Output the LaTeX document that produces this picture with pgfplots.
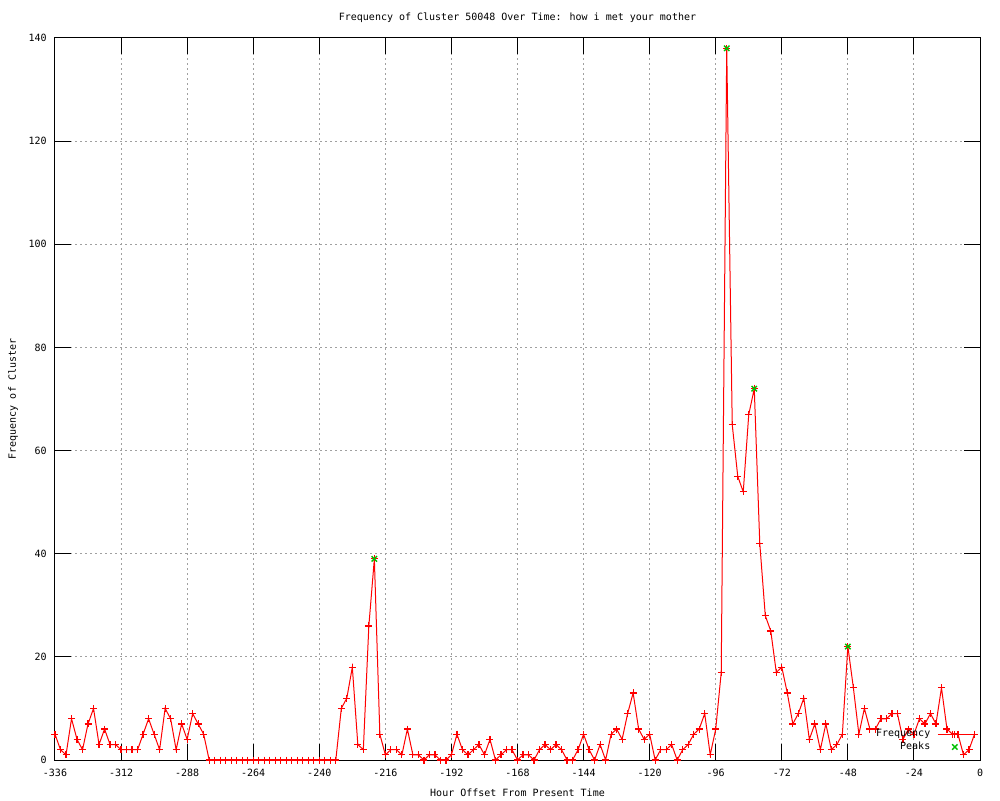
\documentclass[border=0pt]{standalone}
\usepackage{fontspec}
\setmainfont{DejaVu Sans Mono}
\setmonofont{DejaVu Sans Mono}
\usepackage{pgfplots}
\usepackage{pgfplotstable}
\pgfplotsset{compat=1.18}
\definecolor{gpred}{RGB}{255,0,0}
\definecolor{gpgreen}{RGB}{0,192,0}
\definecolor{gpgrid}{RGB}{160,160,160}

\pgfplotstableread{
x y
-336 5
-334 2
-332 1
-330 8
-328 4
-326 2
-324 7
-322 10
-320 3
-318 6
-316 3
-314 3
-312 2
-310 2
-308 2
-306 2
-304 5
-302 8
-300 5
-298 2
-296 10
-294 8
-292 2
-290 7
-288 4
-286 9
-284 7
-282 5
-280 0
-278 0
-276 0
-274 0
-272 0
-270 0
-268 0
-266 0
-264 0
-262 0
-260 0
-258 0
-256 0
-254 0
-252 0
-250 0
-248 0
-246 0
-244 0
-242 0
-240 0
-238 0
-236 0
-234 0
-232 10
-230 12
-228 18
-226 3
-224 2
-222 26
-220 39
-218 5
-216 1
-214 2
-212 2
-210 1
-208 6
-206 1
-204 1
-202 0
-200 1
-198 1
-196 0
-194 0
-192 1
-190 5
-188 2
-186 1
-184 2
-182 3
-180 1
-178 4
-176 0
-174 1
-172 2
-170 2
-168 0
-166 1
-164 1
-162 0
-160 2
-158 3
-156 2
-154 3
-152 2
-150 0
-148 0
-146 2
-144 5
-142 2
-140 0
-138 3
-136 0
-134 5
-132 6
-130 4
-128 9
-126 13
-124 6
-122 4
-120 5
-118 0
-116 2
-114 2
-112 3
-110 0
-108 2
-106 3
-104 5
-102 6
-100 9
-98 1
-96 6
-94 17
-92 138
-90 65
-88 55
-86 52
-84 67
-82 72
-80 42
-78 28
-76 25
-74 17
-72 18
-70 13
-68 7
-66 9
-64 12
-62 4
-60 7
-58 2
-56 7
-54 2
-52 3
-50 5
-48 22
-46 14
-44 5
-42 10
-40 6
-38 6
-36 8
-34 8
-32 9
-30 9
-28 4
-26 6
-24 5
-22 8
-20 7
-18 9
-16 7
-14 14
-12 6
-10 5
-8 5
-6 1
-4 2
-2 5
}\freqdata

\pgfplotstableread{
x y
-220 39
-92 138
-82 72
-48 22
}\peakdata

\begin{document}
\begin{tikzpicture}
\useasboundingbox (-27.5pt,-20pt) rectangle (472.5pt,380pt);
\begin{axis}[
  at={(0,0)}, anchor=south west,
  scale only axis, width=462.5pt, height=361pt,
  xmin=-336, xmax=0, ymin=0, ymax=140,
  xtick={-336,-312,...,0}, ytick={0,20,...,140},
  grid=major,
  major grid style={gpgrid, line width=0.5pt, dash pattern=on 1pt off 1.5pt},
  tick pos=both, tick align=inside, major tick length=8pt,
  tick style={black, line width=0.5pt},
  axis line style={black, line width=0.5pt},
  font=\fontsize{5}{6}\selectfont,
  /pgf/number format/assume math mode=true,
  /pgf/number format/1000 sep={},
  every axis title shift=0pt,
  xticklabel style={inner sep=0pt, anchor=north, yshift=-4.5pt, font=\fontsize{5}{6}\selectfont},
  yticklabel style={inner sep=0pt, anchor=east, xshift=-4pt, font=\fontsize{5}{6}\selectfont},
  title={Frequency of Cluster 50048 Over Time: how i met your mother},
  title style={at={([yshift=10pt]axis description cs:0.5,1)}, anchor=center, inner sep=0pt, font=\fontsize{5}{6}\selectfont},
  xlabel={Hour Offset From Present Time},
  xlabel style={at={([yshift=-16.5pt]axis description cs:0.5,0)}, anchor=center, inner sep=0pt, font=\fontsize{5}{6}\selectfont},
  ylabel={Frequency of Cluster},
  ylabel style={at={([xshift=-21pt]axis description cs:0,0.5)}, anchor=center, inner sep=0pt, font=\fontsize{5}{6}\selectfont},
  legend plot pos=right,
  legend cell align=right,
  legend style={draw=none, fill=none, at={(axis description cs:0.9987,0.0270)}, anchor=east,
    font=\fontsize{5}{6}\selectfont,
    nodes={inner sep=0pt, text height=3.7pt, text depth=1.3pt},
    row sep=1.5pt, column sep=3.5pt},
]
\addplot[gpred, line width=0.5pt, mark=+, mark size=1.75pt, mark options={solid, draw=gpred, line width=0.6pt}] table[x=x,y=y] {\freqdata};
\addlegendentry{Frequency}
\addplot[only marks, gpgreen, mark=x, mark size=1.9pt, mark options={draw=gpgreen, line width=0.7pt}] table[x=x,y=y] {\peakdata};
\addlegendentry{Peaks}
\end{axis}
\end{tikzpicture}
\end{document}
